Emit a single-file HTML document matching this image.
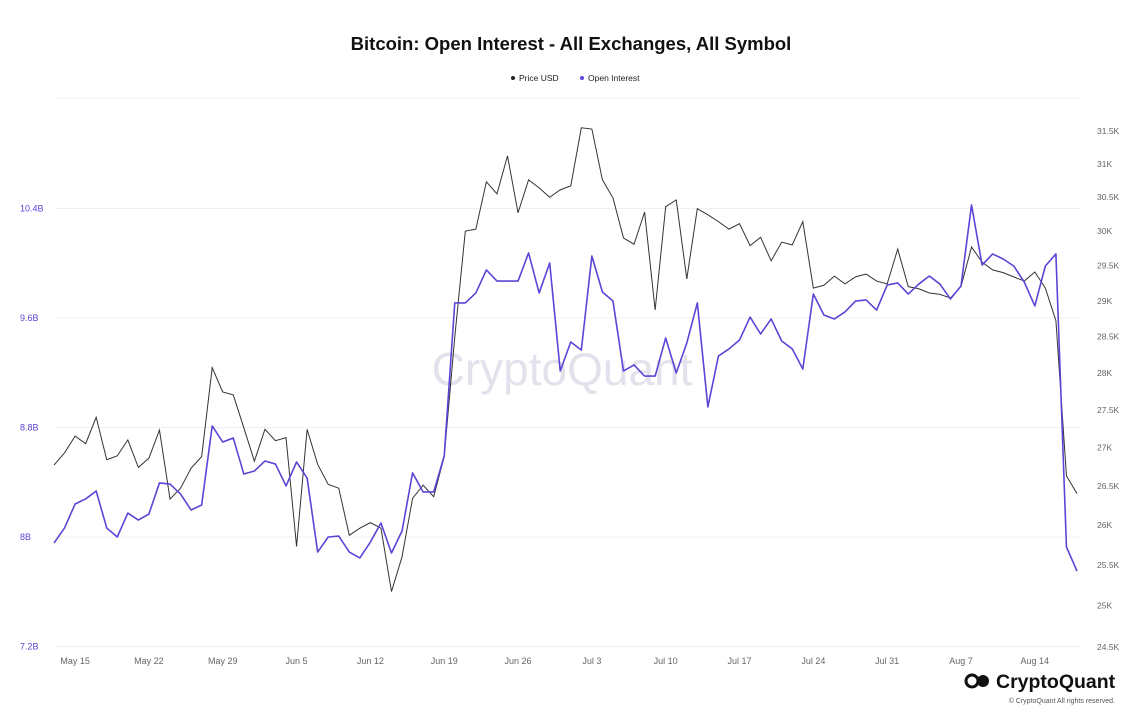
<!DOCTYPE html>
<html><head><meta charset="utf-8"><style>
body{margin:0;background:#fff;font-family:"Liberation Sans",sans-serif;}
svg{display:block}
</style></head><body>
<svg id="chart" width="1143" height="720">
<text x="571" y="50" text-anchor="middle" font-size="18.5" font-weight="bold" fill="#111">Bitcoin: Open Interest - All Exchanges, All Symbol</text>
<g font-size="8.5" fill="#222">
<g><circle cx="513" cy="78" r="2" fill="#222"/><text x="519" y="81">Price USD</text></g>
<g><circle cx="582" cy="78" r="2" fill="#5a46d6"/><text x="588" y="81">Open Interest</text></g>
</g>
<line x1="55" y1="98" x2="1080" y2="98" stroke="#f2f2f2"/>
<text x="562" y="385" text-anchor="middle" font-size="46" fill="#e4e1ec">CryptoQuant</text>
<g id="grid"></g><g id="axes"></g><g id="series"></g>
<g>
<circle cx="972" cy="681" r="6" fill="none" stroke="#111" stroke-width="3"/><circle cx="983" cy="681" r="6" fill="#111"/>
<text x="996" y="688" font-size="19.5" font-weight="bold" fill="#111">CryptoQuant</text>
</g>
<text x="1115" y="703" text-anchor="end" font-size="7" fill="#555">© CryptoQuant All rights reserved.</text>
</svg>
<script>
const oiValues=[7.956,8.066,8.241,8.278,8.336,8.066,8.000,8.175,8.124,8.168,8.395,8.387,8.314,8.197,8.234,8.811,8.694,8.723,8.460,8.482,8.555,8.533,8.373,8.548,8.431,7.890,8.000,8.007,7.890,7.847,7.963,8.102,7.883,8.044,8.468,8.329,8.329,8.592,9.710,9.710,9.783,9.951,9.870,9.870,9.870,10.075,9.783,10.002,9.213,9.425,9.366,10.053,9.790,9.724,9.213,9.257,9.176,9.176,9.454,9.198,9.417,9.710,8.950,9.322,9.374,9.439,9.607,9.483,9.593,9.432,9.374,9.227,9.775,9.622,9.593,9.644,9.724,9.732,9.658,9.841,9.856,9.775,9.848,9.907,9.848,9.739,9.834,10.426,9.987,10.068,10.031,9.980,9.863,9.688,9.980,10.068,7.927,7.751];
const priceValues=[26.77,26.93,27.15,27.05,27.40,26.84,26.89,27.10,26.74,26.86,27.23,26.33,26.47,26.73,26.88,28.07,27.74,27.70,27.26,26.82,27.24,27.09,27.13,25.73,27.24,26.78,26.52,26.47,25.87,25.96,26.03,25.96,25.17,25.60,26.34,26.51,26.36,26.88,28.49,30.00,30.03,30.73,30.55,31.12,30.27,30.76,30.64,30.50,30.61,30.67,31.55,31.53,30.76,30.49,29.90,29.81,30.28,28.87,30.36,30.46,29.31,30.33,30.24,30.14,30.03,30.11,29.79,29.91,29.57,29.84,29.80,30.14,29.18,29.22,29.35,29.24,29.34,29.38,29.28,29.24,29.74,29.20,29.17,29.11,29.09,29.04,29.20,29.77,29.55,29.44,29.40,29.34,29.28,29.41,29.18,28.72,26.63,26.40];
const leftTicks=[7.2,8,8.8,9.6,10.4];
const leftTickLabels=["7.2B","8B","8.8B","9.6B","10.4B"];
const rightTicks=[24.5,25,25.5,26,26.5,27,27.5,28,28.5,29,29.5,30,30.5,31,31.5];
const xTickIndex=[2,9,16,23,30,37,44,51,58,65,72,79,86,93];
const xTickLabels=["May 15","May 22","May 29","Jun 5","Jun 12","Jun 19","Jun 26","Jul 3","Jul 10","Jul 17","Jul 24","Jul 31","Aug 7","Aug 14"];
const NS="http://www.w3.org/2000/svg";
const n=oiValues.length;
const xS=i=>54+i*(1077-54)/(n-1);
const yL=v=>537-(v-8)*109.5/0.8;
const yR=v=>647-Math.log(v/24.5)*516/Math.log(31.5/24.5);
function mk(tag,attrs,parent){const e=document.createElementNS(NS,tag);for(const k in attrs)e.setAttribute(k,attrs[k]);parent.appendChild(e);return e;}
const grid=document.getElementById('grid'),axes=document.getElementById('axes'),series=document.getElementById('series');
leftTicks.forEach((v,k)=>{
  const g=mk('line',{x1:55,x2:1080,y1:yL(v),y2:yL(v),stroke:'#f0f0f0'},grid);
  
  
  const t=mk('text',{x:20,y:yL(v)+3,'font-size':9,fill:'#5a46d6'},axes);t.textContent=leftTickLabels[k];
  
  
});
rightTicks.forEach(v=>{
  const t=mk('text',{x:1097,y:yR(v)+3,'font-size':8.5,fill:'#666'},axes);t.textContent=v+'K';
  
  
});
xTickIndex.forEach((i,k)=>{
  const t=mk('text',{x:xS(i),y:664,'font-size':9,fill:'#666','text-anchor':'middle'},axes);t.textContent=xTickLabels[k];
  
  
});
const pp=mk('polyline',{points:priceValues.map((v,i)=>xS(i)+','+yR(v)).join(' '),fill:'none',stroke:'#333','stroke-width':1},series);


const op=mk('polyline',{points:oiValues.map((v,i)=>xS(i)+','+yL(v)).join(' '),fill:'none',stroke:'#5a46d6','stroke-width':1.6,'stroke-linejoin':'round'},series);


</script>
</body></html>
